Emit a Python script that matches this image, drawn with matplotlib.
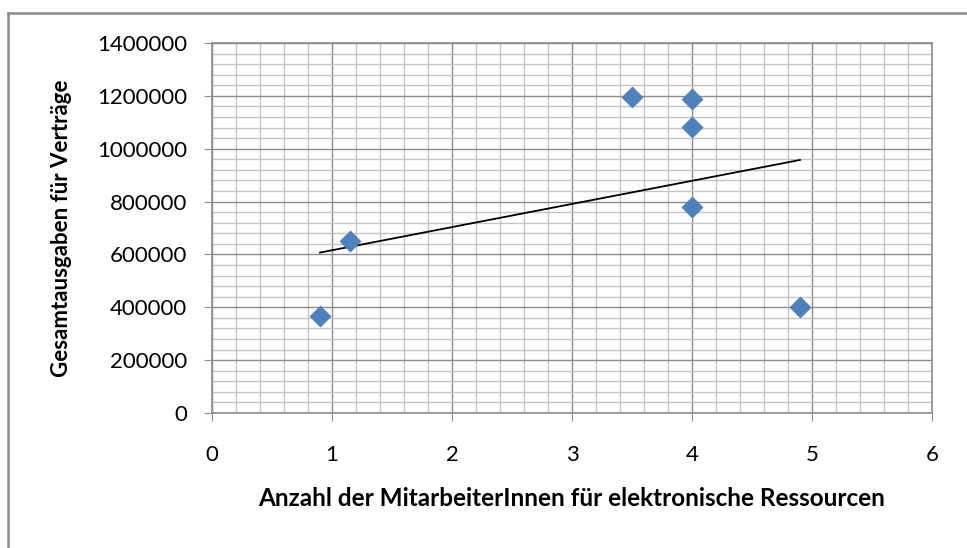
import numpy as np
import matplotlib.pyplot as plt
from matplotlib.lines import Line2D
from matplotlib.ticker import MultipleLocator

# values
mitarbeiter = [0.9, 1.15, 3.5, 4.0, 4.0, 4.0, 4.9]
ausgaben = [367000, 651000, 1196000, 1188000, 1082000, 779000, 401000]

x_ticks = [0, 1, 2, 3, 4, 5, 6]
y_ticks = [0, 200000, 400000, 600000, 800000, 1000000, 1200000, 1400000]

plt.rcParams['font.family'] = ['Lato', 'DejaVu Sans']

W, H = 967, 548
fig = plt.figure(figsize=(W / 100, H / 100), dpi=100)
ax = fig.add_axes([212 / W, 1 - 413 / H, 720 / W, 370 / H])

# outer chart frame (only top and left edge visible in the image)
fig.lines.append(Line2D([8 / W, 1.0], [1 - 13 / H, 1 - 13 / H], transform=fig.transFigure,
                        color='#8c8c8c', linewidth=1.8))
fig.lines.append(Line2D([8 / W, 8 / W], [0.0, 1 - 13 / H], transform=fig.transFigure,
                        color='#8c8c8c', linewidth=1.8))

ax.set_xlim(0, 6)
ax.set_ylim(0, 1400000)
ax.set_xticks(x_ticks)
ax.set_yticks(y_ticks)
ax.set_yticklabels([str(v) for v in y_ticks])
ax.xaxis.set_minor_locator(MultipleLocator(0.2))
ax.yaxis.set_minor_locator(MultipleLocator(40000))

ax.grid(which='minor', color='#c4c4c4', linewidth=1.0)
ax.grid(which='major', color='#8c8c8c', linewidth=1.0)
ax.set_axisbelow(True)

for side in ['left', 'bottom', 'top', 'right']:
    ax.spines[side].set_color('#8c8c8c')
    ax.spines[side].set_linewidth(1.2)

ax.tick_params(which='major', length=6, color='#8c8c8c', labelsize=16)
ax.tick_params(axis='x', which='major', pad=17)
ax.tick_params(axis='y', which='major', pad=12)
ax.tick_params(which='minor', length=0)

ax.scatter(mitarbeiter, ausgaben, marker='D', s=105, color='#4f81bd', zorder=3)

# linear trendline over the data range
k, d = np.polyfit(mitarbeiter, ausgaben, 1)
xs = np.array([min(mitarbeiter), max(mitarbeiter)])
ax.plot(xs, k * xs + d, color='black', linewidth=1.3, zorder=2)

ax.set_xlabel('Anzahl der MitarbeiterInnen für elektronische Ressourcen',
              fontsize=17.5, fontweight='bold', labelpad=16)
ax.set_ylabel('Gesamtausgaben für Verträge', fontsize=16, fontweight='bold', labelpad=18)

fig.savefig('out.png', dpi=100)
